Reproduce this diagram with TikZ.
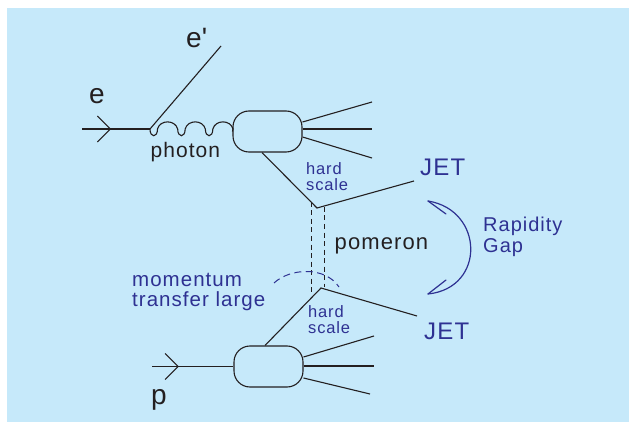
\documentclass[tikz,border=0pt]{standalone}
\usepackage{fontspec}
\setmainfont{Liberation Sans}[LetterSpace=5]
\usetikzlibrary{arrows.meta,calc,decorations.markings}
\definecolor{skyfill}{RGB}{198,233,250}
\definecolor{inkblue}{RGB}{46,49,146}
\definecolor{inkblack}{RGB}{35,31,32}
\tikzset{
  leg/.style={draw=inkblack,line width=1.1pt},
  blob/.style={leg,rounded corners=16pt,minimum width=69pt,minimum height=41pt,inner sep=0pt},
  incoming/.style={leg,postaction={decorate},
    decoration={markings,mark=at position #1 with {\arrow{Straight Barb[length=13pt,width=26pt]}}}},
  pomline/.style={draw=inkblack,line width=1pt,dash pattern=on 5pt off 3.5pt},
  gapline/.style={draw=inkblue,line width=1.2pt,line cap=round},
  blk/.style={inner sep=0pt,text=inkblack},
  blu/.style={inner sep=0pt,text=inkblue,align=left}
}

\begin{document}
\begin{tikzpicture}[x=1pt,y=-1pt]
    \useasboundingbox (0,0) rectangle (629,422);
    \fill[skyfill] (7,8) rectangle (629,422);
    % electron side
    \coordinate (eIn) at (82,129);
    \coordinate (vE) at (150,129);
    \coordinate (eOut) at (221,46);
    \node[blob] (hadU) at (267.5,131.5) {};
    \draw[incoming=0.43] (eIn) -- (vE);
    \draw[leg] (vE) -- (eOut);
    % photon
    \draw[leg] (vE) \foreach \k in {1,2,3} {
        .. controls +(0,9) and +(0,9) .. ++(7.5,0)
        .. controls +(2.5,-9.5) and +(-2.5,-9.5) .. ++(20.17,0)
      } -- (hadU.west);
    \node[blk,anchor=base west,font=\fontsize{28}{28}\selectfont] (eLbl) at (89,103.5) {e};
    \node[blk,anchor=base west,font=\fontsize{28}{28}\selectfont] (ePrime) at (186,48) {e\textquotesingle};
    \node[blk,anchor=base west,font=\fontsize{21}{21}\selectfont] (photon) at (150.5,157.5) {photon};
    % upper fragments
    \coordinate (uA) at (372,102);
    \coordinate (uB) at (372,129);
    \coordinate (uC) at (372,158);
    \draw[leg] ($(hadU.east)+(0,-9.5)$) -- (uA);
    \draw[leg] ($(hadU.east)+(0,-2.5)$) -- (uB);
    \draw[leg] ($(hadU.east)+(0,5.5)$) -- (uC);
    % upper jet
    \coordinate (vU) at (317,208);
    \coordinate (jetUend) at (414,181);
    \draw[leg] ($(hadU.south)+(-5.5,0)$) -- (vU) -- (jetUend);
    \node[blu,anchor=base west,font=\fontsize{24}{24}\selectfont] (jetU) at (420,176) {JET};
    \node[blu,anchor=west,font=\fontsize{16.5}{16}\selectfont] (hardU) at (306,177) {hard\\scale};
    % pomeron exchange
    \coordinate (vL) at (321,288);
    \coordinate (pomA) at (311,202);
    \coordinate (pomB) at (311,293);
    \coordinate (pomC) at (324,207);
    \coordinate (pomD) at (324,287);
    \draw[pomline] (pomA) -- (pomB);
    \draw[pomline] (pomC) -- (pomD);
    \node[blk,anchor=base west,font=\fontsize{22}{22}\selectfont] (pomeron) at (334.5,249) {pomeron};
    % momentum transfer
    \coordinate (arcL) at (274,283);
    \coordinate (arcR) at (339,287);
    \draw[inkblue,line width=1pt,dash pattern=on 7pt off 4.5pt] (arcL) .. controls (290,268) and (325,266) .. (arcR);
    \node[blu,anchor=west,font=\fontsize{20.5}{20}\selectfont] (momentum) at (132,292) {momentum\\transfer large};
    % proton side
    \node[blob] (hadL) at (268.5,366.5) {};
    \coordinate (pIn) at (152,366.5);
    \draw[incoming=0.33] (pIn) -- (hadL.west);
    \node[blk,anchor=base west,font=\fontsize{28}{28}\selectfont] (pLbl) at (151,404.5) {p};
    \coordinate (lA) at (374,336);
    \coordinate (lB) at (374,366);
    \coordinate (lC) at (370,394);
    \draw[leg] ($(hadL.east)+(0,-9.5)$) -- (lA);
    \draw[leg] ($(hadL.east)+(0,-0.5)$) -- (lB);
    \draw[leg] ($(hadL.east)+(0,11.5)$) -- (lC);
    % lower jet
    \coordinate (jetLend) at (417,316);
    \draw[leg] ($(hadL.north)+(-3.5,0)$) -- (vL) -- (jetLend);
    \node[blu,anchor=base west,font=\fontsize{24}{24}\selectfont] (jetL) at (424,339) {JET};
    \node[blu,anchor=west,font=\fontsize{16.5}{16}\selectfont] (hardL) at (308,320) {hard\\scale};
    % rapidity gap
    \coordinate (gapTop) at (428,201);
    \coordinate (gapBot) at (428,294);
    \coordinate (barbTop) at (446,214);
    \coordinate (barbBot) at (446,280);
    \draw[gapline] (gapTop) .. controls (484,210) and (486,288) .. (gapBot);
    \draw[gapline] (gapTop) -- (barbTop);
    \draw[gapline] (gapBot) -- (barbBot);
    \node[blu,anchor=west,font=\fontsize{20}{21.5}\selectfont] (gap) at (483,237) {Rapidity\\Gap};
\end{tikzpicture}
\end{document}
